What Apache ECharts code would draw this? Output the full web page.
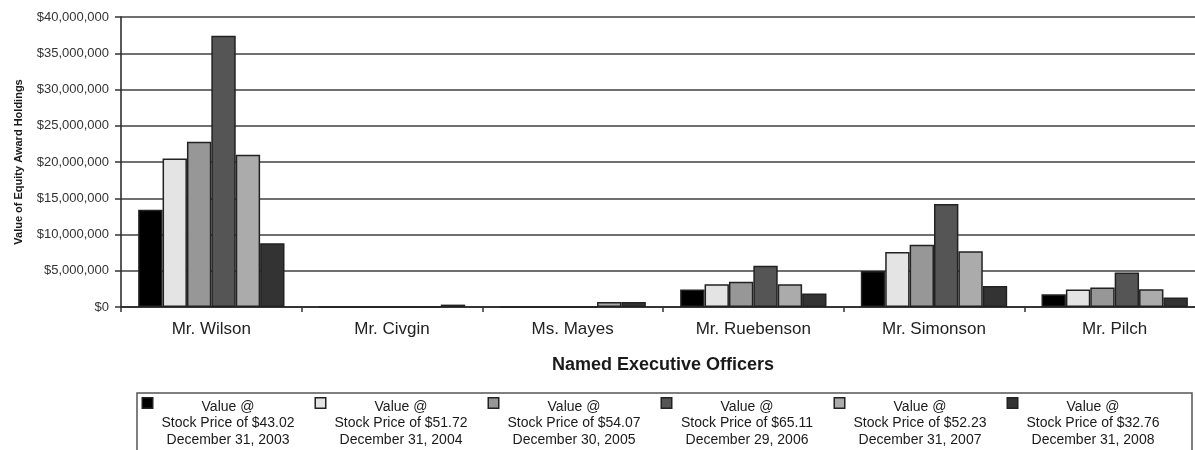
<!DOCTYPE html>
<html>
<head>
<meta charset="utf-8">
<script src="https://cdn.jsdelivr.net/npm/echarts@6/dist/echarts.min.js"></script>
<style>html,body{margin:0;padding:0;background:#fff;}#c{width:1195px;height:450px;}</style>
</head>
<body>
<div id="c"></div>
<script>
var categories = ['Mr. Wilson', 'Mr. Civgin', 'Ms. Mayes', 'Mr. Ruebenson', 'Mr. Simonson', 'Mr. Pilch'];
var prices = ['$43.02', '$51.72', '$54.07', '$65.11', '$52.23', '$32.76'];
var dates = ['December 31, 2003', 'December 31, 2004', 'December 30, 2005', 'December 29, 2006', 'December 31, 2007', 'December 31, 2008'];
var v2003 = [13400000, 30000, 30000, 2400000, 4970000, 1750000];
var v2004 = [20500000, 30000, 30000, 3150000, 7600000, 2400000];
var v2005 = [22800000, 30000, 30000, 3500000, 8600000, 2700000];
var v2006 = [37400000, 30000, 30000, 5700000, 14200000, 4750000];
var v2007 = [21000000, 30000, 690000, 3150000, 7700000, 2450000];
var v2008 = [8800000, 330000, 690000, 1850000, 2900000, 1300000];
var yTicks = [0, 5000000, 10000000, 15000000, 20000000, 25000000, 30000000, 35000000, 40000000];

var seriesValues = [v2003, v2004, v2005, v2006, v2007, v2008];
var colors = ['#000000', '#e4e4e4', '#979797', '#555555', '#ababab', '#333333'];
var names = prices.map(function (p, i) { return 'Value @ Stock Price of ' + p + ' ' + dates[i]; });

var rich = {
  c: { width: 150, align: 'center', fontFamily: 'Liberation Sans, Arial', fontSize: 14, lineHeight: 16.5, color: '#1a1a1a' },
  sp: { width: 10, height: 10 },
  sp1: { width: 1, height: 9 }
};
colors.forEach(function (col, i) {
  rich['sq' + i] = { width: 9, height: 9, backgroundColor: col, borderColor: '#222', borderWidth: 1.5, verticalAlign: 'top' };
});

var chart = echarts.init(document.getElementById('c'), null, { renderer: 'canvas' });
chart.setOption({
  animation: false,
  backgroundColor: '#ffffff',
  grid: { left: 121, width: 1084, top: 17, bottom: 143, containLabel: false, outerBoundsMode: 'none' },
  xAxis: {
    type: 'category',
    data: categories,
    axisLine: { lineStyle: { color: '#222', width: 1.5 } },
    axisTick: { show: true, length: 5, lineStyle: { color: '#333', width: 1.5 } },
    axisLabel: { margin: 14, fontFamily: 'Liberation Sans, Arial', fontSize: 17, color: '#222' },
    name: 'Named Executive Officers',
    nameLocation: 'middle',
    nameGap: 49,
    nameTextStyle: { fontFamily: 'Liberation Sans, Arial', fontSize: 18, fontWeight: 'bold', color: '#1a1a1a' }
  },
  yAxis: {
    type: 'value',
    min: yTicks[0],
    max: yTicks[yTicks.length - 1],
    interval: yTicks[1] - yTicks[0],
    axisLine: { show: true, lineStyle: { color: '#222', width: 1.5 } },
    axisTick: { show: true, length: 6, lineStyle: { color: '#333', width: 1.5 } },
    splitLine: { lineStyle: { color: '#707070', width: 2 } },
    axisLabel: {
      margin: 12,
      fontFamily: 'Liberation Sans, Arial',
      fontSize: 13,
      color: '#333',
      formatter: function (v) { return '$' + v.toLocaleString('en-US'); }
    },
    name: 'Value of Equity Award Holdings',
    nameLocation: 'middle',
    nameGap: 97,
    nameTextStyle: { fontFamily: 'Liberation Sans, Arial', fontSize: 11, fontWeight: 'bold', color: '#1a1a1a' }
  },
  legend: {
    data: names,
    orient: 'horizontal',
    left: 137,
    top: 393,
    width: 1040,
    padding: [4, 24, 30, 1],
    itemGap: 8,
    itemWidth: 0,
    itemHeight: 10,
    icon: 'none',
    selectedMode: false,
    borderColor: '#555',
    borderWidth: 1.5,
    textStyle: { rich: rich },
    formatter: function (name) {
      var i = names.indexOf(name);
      return '{sq' + i + '|}{sp1|}{c|Value @}\n{sp|}{c|Stock Price of ' + prices[i] + '}\n{sp|}{c|' + dates[i] + '}';
    }
  },
  series: seriesValues.map(function (vals, i) {
    return {
      name: names[i],
      type: 'bar',
      data: vals,
      barGap: '0%',
      barCategoryGap: '19%',
      itemStyle: { color: colors[i], borderColor: '#222', borderWidth: 1.5 }
    };
  })
});
</script>
</body>
</html>
